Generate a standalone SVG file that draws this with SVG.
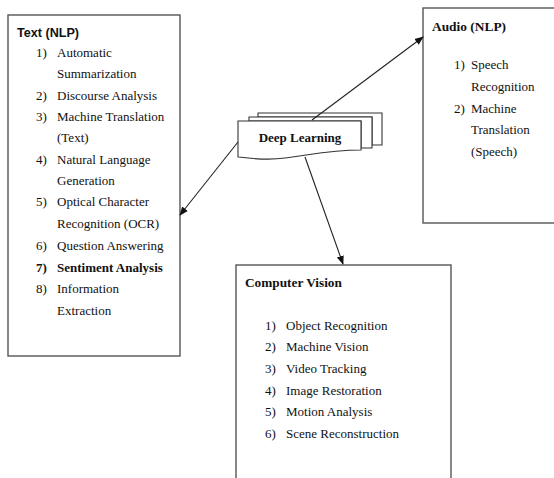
<svg xmlns="http://www.w3.org/2000/svg" width="554" height="478" viewBox="0 0 554 478">
<defs>
<style>
.box{fill:#fff;stroke:#555;stroke-width:1.4}
.t{font-family:"Liberation Serif","Times New Roman",serif;font-size:13px;fill:#111}
.b{font-weight:bold}
.h{font-family:"Liberation Sans",Arial,sans-serif;font-size:12.6px;font-weight:bold;fill:#111}
.con{stroke:#222;stroke-width:1.1;fill:none;marker-end:url(#ah)}
.doc{fill:#fff;stroke:#333;stroke-width:1.1}
</style>
<marker id="ah" viewBox="0 0 10 10" refX="9" refY="5" markerWidth="9" markerHeight="9" markerUnits="userSpaceOnUse" orient="auto">
<path d="M0,1 L10,5 L0,9 Z" fill="#111"/>
</marker>
</defs>
<rect width="554" height="478" fill="#fff"/>
<g id="text-nlp">
<rect class="box" x="8" y="15" width="172" height="341"/>
<text class="h" x="17" y="37">Text (NLP)</text>
<g class="t">
<text x="36" y="57">1)</text><text x="57" y="57">Automatic</text>
<text x="57" y="78">Summarization</text>
<text x="36" y="100">2)</text><text x="57" y="100">Discourse Analysis</text>
<text x="36" y="121">3)</text><text x="57" y="121">Machine Translation</text>
<text x="57" y="142">(Text)</text>
<text x="36" y="164">4)</text><text x="57" y="164">Natural Language</text>
<text x="57" y="185">Generation</text>
<text x="36" y="206">5)</text><text x="57" y="206">Optical Character</text>
<text x="57" y="228">Recognition (OCR)</text>
<text x="36" y="250">6)</text><text x="57" y="250">Question Answering</text>
<text class="b" x="36" y="272">7)</text><text class="b" x="57" y="272">Sentiment Analysis</text>
<text x="36" y="293">8)</text><text x="57" y="293">Information</text>
<text x="57" y="315">Extraction</text>
</g>
</g>
<g id="audio-nlp">
<rect class="box" x="423" y="8" width="140" height="215"/>
<g class="t">
<text class="b" x="432" y="31" font-size="13.4">Audio (NLP)</text>
<text x="454" y="69">1)</text><text x="471" y="69">Speech</text>
<text x="471" y="91">Recognition</text>
<text x="454" y="113">2)</text><text x="471" y="113">Machine</text>
<text x="471" y="134">Translation</text>
<text x="471" y="156">(Speech)</text>
</g>
</g>
<g id="computer-vision">
<rect class="box" x="236" y="265" width="215" height="230"/>
<g class="t">
<text class="b" x="245" y="287" font-size="13.3">Computer Vision</text>
<text x="265" y="330">1)</text><text x="286" y="330">Object Recognition</text>
<text x="265" y="351">2)</text><text x="286" y="351">Machine Vision</text>
<text x="265" y="373">3)</text><text x="286" y="373">Video Tracking</text>
<text x="265" y="395">4)</text><text x="286" y="395">Image Restoration</text>
<text x="265" y="416">5)</text><text x="286" y="416">Motion Analysis</text>
<text x="265" y="438">6)</text><text x="286" y="438">Scene Reconstruction</text>
</g>
</g>
<g id="deep-learning">
<path class="doc" d="M258,113 L382,113 L382,145 L372,145 L372,117 L258,117 Z"/>
<path class="doc" d="M249,117 L372,117 L372,148 L361,148 L361,121 L249,121 Z"/>
<path class="doc" d="M238,121 L361,121 L361,150 C330,150 310,155 285,158 C265,161 250,158 238,157 Z"/>
<text class="t b" x="300" y="142" font-size="13.5" text-anchor="middle">Deep Learning</text>
</g>
<g id="connectors">
<line class="con" x1="312" y1="120" x2="423" y2="37"/>
<line class="con" x1="238" y1="142" x2="180" y2="215"/>
<line class="con" x1="305" y1="157" x2="343" y2="264"/>
</g>
</svg>
